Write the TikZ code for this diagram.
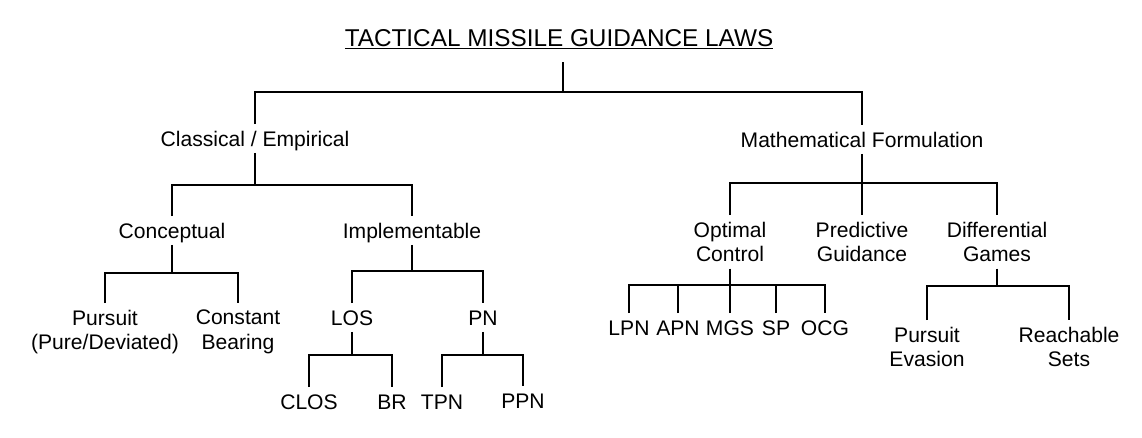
\documentclass[tikz,border=0pt]{standalone}
\usepackage{fontspec}
\setmainfont{Liberation Sans}
\newcommand{\thickul}[1]{\setbox0\hbox{#1}\rlap{\rule[-2.2pt]{\wd0}{1.1pt}}\box0}
\tikzset{
  link/.style={line width=1.8pt},
  lbl/.style={font=\fontsize{15}{17}\selectfont, inner sep=0pt, outer ysep=0.17cm, text height=0.379cm, text depth=0pt, anchor=base},
  lbltwo/.style={font=\fontsize{15}{17.5}\selectfont, inner sep=0pt, outer ysep=0.17cm, align=center, anchor=north},
  ttl/.style={font=\fontsize{17.3}{20}\selectfont, inner sep=0pt, outer ysep=0.4cm, text depth=0pt, anchor=base}
}
\begin{document}
\begin{tikzpicture}[x=0.025cm, y=-0.025cm]
  \useasboundingbox (0,0) rectangle (1142,437);
  % title and first split
  \node[ttl] (ti) at (559,46) {\thickul{TACTICAL MISSILE GUIDANCE LAWS}};
  \node[lbl] (ce) at (255,146) {Classical / Empirical};
  \node[lbl] (mf) at (862,147) {Mathematical Formulation};
  \coordinate (j0) at (563,92);
  \draw[link] (ti.south -| j0) -- (j0);
  \draw[link] (ce.north) |- (j0) -| (mf.north);

  % classical side
  \node[lbl] (co) at (172,238) {Conceptual};
  \node[lbl] (im) at (412,238) {Implementable};
  \coordinate (j1) at (255,185);
  \draw[link] (ce.south) -- (j1);
  \draw[link] (co.north) |- (j1) -| (im.north);

  \node[lbltwo] (pu) at (105,303) {Pursuit\\(Pure/Deviated)};
  \node[lbltwo] (cb) at (238,303) {Constant\\Bearing};
  \coordinate (j2) at (172,273);
  \draw[link] (co.south) -- (j2);
  \draw[link] (pu.north) |- (j2) -| (cb.north);

  \node[lbl] (los) at (352,325) {LOS};
  \node[lbl] (pn) at (483,325) {PN};
  \coordinate (j3) at (412,271);
  \draw[link] (im.south) -- (j3);
  \draw[link] (los.north) |- (j3) -| (pn.north);

  \node[lbl] (clos) at (309,409) {CLOS};
  \node[lbl] (br) at (392,409) {BR};
  \coordinate (j4) at (352,355);
  \draw[link] (los.south) -- (j4);
  \draw[link] (clos.north) |- (j4) -| (br.north);

  \node[lbl] (tpn) at (442,409) {TPN};
  \node[lbl] (ppn) at (523,408) {PPN};
  \coordinate (j5) at (483,355);
  \draw[link] (pn.south) -- (j5);
  \draw[link] (tpn.north) |- (j5) -| (ppn.north);

  % mathematical side
  \node[lbltwo] (oc) at (730,215) {Optimal\\Control};
  \node[lbltwo] (pg) at (862,215) {Predictive\\Guidance};
  \node[lbltwo] (dg) at (997,215) {Differential\\Games};
  \coordinate (j6) at (862,183);
  \draw[link] (mf.south) -- (pg.north);
  \draw[link] (oc.north) |- (j6) -| (dg.north);

  \foreach \n/\t/\x in {lpn/LPN/629, apn/APN/678, mgs/MGS/730, sp/SP/776, ocg/OCG/825}
    \node[lbl] (\n) at (\x,335) {\t};
  \coordinate (j7) at (730,285);
  \draw[link] (oc.south) -- (j7);
  \draw[link] (lpn.north) |- (j7) -| (ocg.north);
  \foreach \n in {apn,mgs,sp}
    \draw[link] (\n.north) -- (\n.north |- j7);

  \node[lbltwo] (pe) at (927,320) {Pursuit\\Evasion};
  \node[lbltwo] (rs) at (1069,320) {Reachable\\Sets};
  \coordinate (j8) at (997,286);
  \draw[link] (dg.south) -- (j8);
  \draw[link] (pe.north) |- (j8) -| (rs.north);
\end{tikzpicture}
\end{document}
